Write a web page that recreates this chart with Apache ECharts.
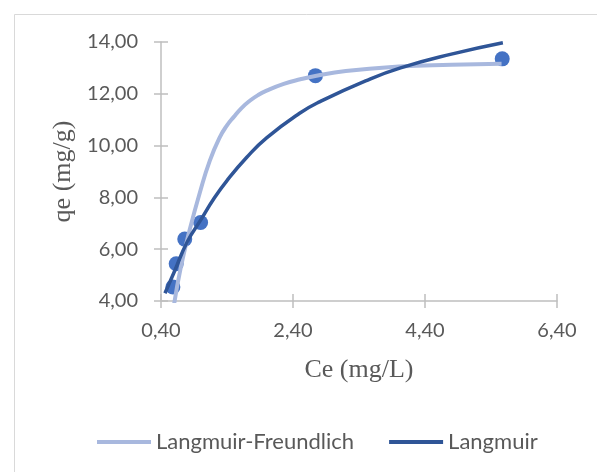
<!DOCTYPE html>
<html><head><meta charset="utf-8">
<script src="https://cdn.jsdelivr.net/npm/echarts@6/dist/echarts.min.js"></script>
<style>html,body{margin:0;padding:0;background:#fff}#c{width:597px;height:472px}</style>
</head><body><div id="c"></div>
<script>
// Experimental points
const expCe = [0.58, 0.63, 0.76, 1.00, 2.74, 5.57];
const expQe = [4.54, 5.44, 6.39, 7.03, 12.70, 13.35];
// Langmuir-Freundlich fitted curve
const lfCe = [0.60, 0.70, 0.83, 0.99, 1.14, 1.29, 1.40, 1.50, 1.62, 1.75, 1.87, 2.00, 2.26, 2.51, 2.72, 3.20, 4.00, 4.80, 5.56];
const lfQe = [3.90, 5.30, 6.70, 8.20, 9.42, 10.32, 10.78, 11.10, 11.45, 11.74, 11.95, 12.12, 12.38, 12.56, 12.68, 12.88, 13.05, 13.12, 13.16];
// Langmuir fitted curve
const lCe = [0.46, 0.60, 0.80, 1.00, 1.20, 1.40, 1.70, 2.00, 2.50, 2.81, 3.50, 4.03, 4.80, 5.58];
const lQe = [4.30, 5.12, 6.30, 7.12, 7.95, 8.65, 9.55, 10.30, 11.25, 11.70, 12.50, 13.00, 13.53, 13.97];
// Axis ticks
const xTicks = [0.4, 2.4, 4.4, 6.4];
const yTicks = [4, 6, 8, 10, 12, 14];
const seriesNames = ['Langmuir-Freundlich', 'Langmuir'];

const zip = (a, b) => a.map((v, i) => [v, b[i]]);
const fmt = v => v.toFixed(2).replace('.', ',');
const axisGray = '#bfbfbf';
const textGray = '#595959';

const chart = echarts.init(document.getElementById('c'));
chart.setOption({
  animation: false,
  backgroundColor: '#fff',
  graphic: [{
    type: 'rect', left: 12, top: 12,
    shape: { width: 600, height: 470 },
    style: { fill: 'none', stroke: '#d9d9d9', lineWidth: 1 },
    silent: true
  }],
  grid: { left: 161, right: 40, top: 42, bottom: 171 },
  legend: {
    data: seriesNames,
    left: 92, top: 426,
    icon: 'rect', itemWidth: 54, itemHeight: 4, itemGap: 35,
    textStyle: { fontFamily: 'Lato', fontSize: 22, color: textGray }
  },
  xAxis: [{
    type: 'value', position: 'bottom', min: xTicks[0], max: xTicks[xTicks.length - 1],
    axisLine: { show: true, lineStyle: { color: axisGray, width: 1.5 } },
    axisTick: { show: true, length: 7, customValues: xTicks, lineStyle: { color: axisGray, width: 1.5 } },
    axisLabel: { customValues: xTicks, formatter: fmt, margin: 20, fontFamily: 'Lato', fontSize: 20, color: textGray },
    splitLine: { show: false },
    name: 'Ce (mg/L)', nameLocation: 'middle', nameGap: 56,
    nameTextStyle: { fontFamily: 'Liberation Serif', fontSize: 26, color: textGray }
  }, {
    type: 'value', position: 'bottom', min: xTicks[0], max: xTicks[xTicks.length - 1],
    axisLine: { show: false },
    axisTick: { show: true, inside: true, length: 7, customValues: xTicks, lineStyle: { color: axisGray, width: 1.5 } },
    axisLabel: { show: false },
    splitLine: { show: false }
  }],
  yAxis: [{
    type: 'value', position: 'left', min: yTicks[0], max: yTicks[yTicks.length - 1], interval: 2,
    axisLine: { show: true, lineStyle: { color: axisGray, width: 1.5 } },
    axisTick: { show: true, length: 7, lineStyle: { color: axisGray, width: 1.5 } },
    axisLabel: { formatter: fmt, margin: 23, fontFamily: 'Lato', fontSize: 20, color: textGray },
    splitLine: { show: false },
    name: 'qe (mg/g)', nameLocation: 'middle', nameGap: 84,
    nameTextStyle: { fontFamily: 'Liberation Serif', fontSize: 26, color: textGray }
  }, {
    type: 'value', position: 'left', min: yTicks[0], max: yTicks[yTicks.length - 1], interval: 2,
    axisLine: { show: false },
    axisTick: { show: true, inside: true, length: 7, lineStyle: { color: axisGray, width: 1.5 } },
    axisLabel: { show: false },
    splitLine: { show: false }
  }],
  series: [{
    name: 'qe', type: 'scatter', data: zip(expCe, expQe),
    symbolSize: 15, itemStyle: { color: '#4472C4', opacity: 1 }, z: 1
  }, {
    name: seriesNames[0], type: 'line', data: zip(lfCe, lfQe),
    smooth: true, showSymbol: false, symbol: 'none',
    lineStyle: { color: '#A8B8DE', width: 4 }, itemStyle: { color: '#A8B8DE' }, z: 2
  }, {
    name: seriesNames[1], type: 'line', data: zip(lCe, lQe),
    smooth: true, showSymbol: false, symbol: 'none',
    lineStyle: { color: '#2F5597', width: 3.5 }, itemStyle: { color: '#2F5597' }, z: 3
  }]
});
</script></body></html>
